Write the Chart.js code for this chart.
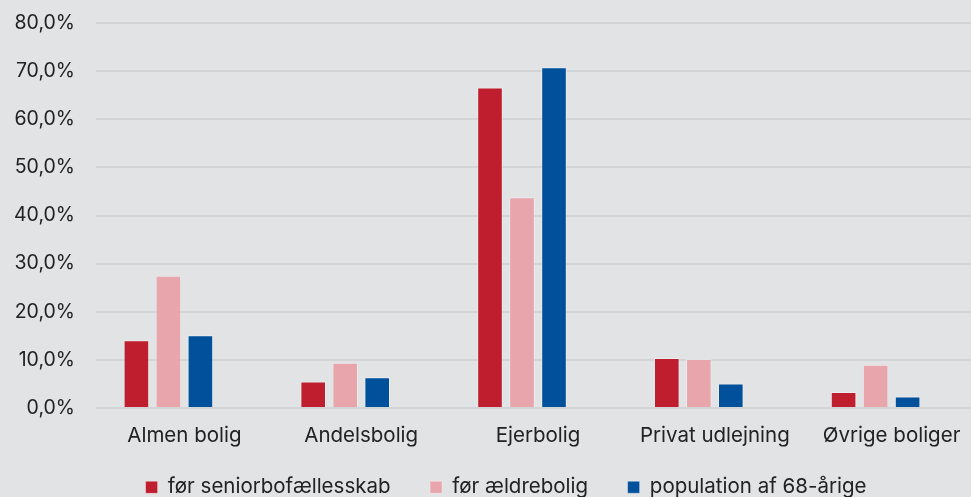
<!DOCTYPE html>
<html>
<head>
<meta charset="utf-8">
<script src="https://cdn.jsdelivr.net/npm/chart.js@4"></script>
<style>
  html, body { margin: 0; padding: 0; background: #e2e3e5; overflow: hidden; }
  #wrap { width: 990px; height: 497px; }
</style>
</head>
<body>
<div id="wrap"><canvas id="boligChart" width="990" height="497"></canvas></div>
<script>
// kategorier og serier
const categories = ['Almen bolig', 'Andelsbolig', 'Ejerbolig', 'Privat udlejning', 'Øvrige boliger'];
const seriesNames = ['før seniorbofællesskab', 'før ældrebolig', 'population af 68-årige'];
const foerSenior = [14.1, 5.5, 66.6, 10.4, 3.3];
const foerAeldre = [27.5, 9.4, 43.8, 10.2, 9.0];
const population68 = [15.1, 6.4, 70.8, 5.1, 2.4];
const yTicks = [0, 10, 20, 30, 40, 50, 60, 70, 80];

const colors = ['#be1e2d', '#e8a6ac', '#00509b'];
const values = [foerSenior, foerAeldre, population68];
const FONT = { family: 'Inter', size: 20.5 };

const datasets = seriesNames.map((name, i) => ({
    label: name,
    data: values[i],
    backgroundColor: colors[i],
    borderColor: 'rgba(255,255,255,0.35)',
    borderWidth: 1,
    categoryPercentage: 0.724,
    barPercentage: 0.8
}));
// tom fjerde serie (som i originalen) - giver forskydning af grupperne
datasets.push({
    label: '',
    data: categories.map(() => null),
    backgroundColor: 'transparent',
    categoryPercentage: 0.724,
    barPercentage: 0.8
});

// flyt legenden lidt til højre
const legendShift = {
    id: 'legendShift',
    afterLayout: chart => { chart.legend.left += 32; }
};

const ctx = document.getElementById('boligChart').getContext('2d');
new Chart(ctx, {
    type: 'bar',
    data: { labels: categories, datasets: datasets },
    plugins: [legendShift],
    options: {
        responsive: false,
        animation: false,
        layout: { padding: { left: 0, right: 10, top: 23, bottom: -10.5 } },
        scales: {
            x: {
                grid: { display: false },
                border: { display: false },
                ticks: { color: '#222', font: FONT, padding: 8, maxRotation: 0 },
                afterFit: s => { s.height = 41; }
            },
            y: {
                min: 0,
                max: 80,
                afterBuildTicks: s => { s.ticks = yTicks.map(v => ({ value: v })); },
                afterFit: s => { s.width = 96; s.paddingTop = 0; s.paddingBottom = 0; },
                grid: { color: '#d3d4d6', lineWidth: 2, drawTicks: false },
                border: { display: false },
                ticks: {
                    color: '#222',
                    font: { family: 'Inter', size: 19.5 },
                    padding: 21,
                    callback: v => v.toFixed(1).replace('.', ',') + '%'
                }
            }
        },
        plugins: {
            legend: {
                position: 'bottom',
                labels: {
                    color: '#222',
                    font: FONT,
                    boxWidth: 12,
                    boxHeight: 12,
                    padding: 28,
                    filter: item => item.text !== '',
                    // lidt ekstra luft mellem punkterne
                    generateLabels: chart => Chart.defaults.plugins.legend.labels.generateLabels(chart)
                        .map((l, i) => ({ ...l, text: i < 2 ? l.text + '\u00a0\u00a0' : l.text }))
                }
            },
            tooltip: { enabled: false }
        }
    }
});
</script>
</body>
</html>
